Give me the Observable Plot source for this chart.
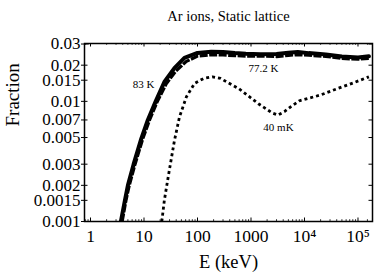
<!DOCTYPE html>
<html>
<head>
<meta charset="utf-8">
<script src="https://cdn.jsdelivr.net/npm/d3@7"></script>
<script src="https://cdn.jsdelivr.net/npm/@observablehq/plot@0.6"></script>
<style>
  html, body { margin: 0; padding: 0; background: white; }
  svg, svg text { font-family: 'Liberation Serif', 'DejaVu Serif', serif !important; }
</style>
</head>
<body>
<div id="chart"></div>
<script>
// Energy (keV) and fraction values
const E83 = [3.7, 4.4, 5.0, 6.4, 8.9, 11.8, 16.4, 24, 37, 57, 100, 180, 300, 500, 800, 1500, 3000, 5000, 7500, 12000, 25000, 50000, 100000, 160000];
const F83 = [0.001, 0.0015, 0.002, 0.003, 0.0049, 0.007, 0.0099, 0.0145, 0.0189, 0.023, 0.0253, 0.0259, 0.0257, 0.0252, 0.0249, 0.0247, 0.0248, 0.0254, 0.0258, 0.0252, 0.0245, 0.0236, 0.0232, 0.0237];

const E77 = [3.9, 4.6, 5.3, 6.8, 9.5, 12.7, 17.6, 26, 39, 62, 100, 180, 300, 500, 800, 1500, 3000, 5000, 7500, 12000, 25000, 50000, 100000, 160000];
const F77 = [0.001, 0.0015, 0.002, 0.003, 0.0049, 0.007, 0.0099, 0.014, 0.0178, 0.0215, 0.0238, 0.0244, 0.0243, 0.024, 0.0238, 0.0238, 0.0236, 0.0241, 0.0245, 0.0242, 0.0237, 0.0228, 0.0224, 0.0228];

const E40 = [21.5, 24, 29, 37, 46, 62, 88, 130, 190, 270, 600, 1400, 2500, 3200, 4200, 5500, 8000, 20000, 40000, 80000, 160000];
const F40 = [0.001, 0.0015, 0.0025, 0.0047, 0.0074, 0.0109, 0.0141, 0.0155, 0.016, 0.0155, 0.0127, 0.0095, 0.008, 0.0077, 0.0082, 0.009, 0.0101, 0.0113, 0.0127, 0.0142, 0.016];

const xTicks = [1, 10, 100, 1000, 10000, 100000];
const xTickLabels = ["1", "10", "100", "1000", "10\u2074", "10\u2075"];
const xMinor = [0.8, 0.9, 2, 3, 4, 5, 6, 7, 8, 9, 20, 30, 40, 50, 60, 70, 80, 90, 200, 300, 400, 500, 600, 700, 800, 900, 2000, 3000, 4000, 5000, 6000, 7000, 8000, 9000, 20000, 30000, 40000, 50000, 60000, 70000, 80000, 90000, 150000];
const yTicks = [0.001, 0.0015, 0.002, 0.003, 0.005, 0.007, 0.01, 0.015, 0.02, 0.03];
const yTickLabels = ["0.001", "0.0015", "0.002", "0.003", "0.005", "0.007", "0.01", "0.015", "0.02", "0.03"];

const title = "Ar ions, Static lattice";
const xLabel = "E (keV)";
const yLabel = "Fraction";
const curveLabels = [
  {text: "83 K", E: 9.8, F: 0.0139},
  {text: "77.2 K", E: 1713, F: 0.0186},
  {text: "40 mK", E: 3266, F: 0.0061}
];

const toRows = (E, F) => E.map((e, i) => ({E: e, F: F[i]}));
const d83 = toRows(E83, F83);
const d77 = toRows(E77, F77);
const d40 = toRows(E40, F40);

const W = 377, H = 278, mT = 43, mB = 57, mL = 84, mR = 5;
const fw = W - mL - mR, fh = H - mT - mB;
const serif = "'Liberation Serif', 'DejaVu Serif', serif";

const chart = Plot.plot({
  width: W,
  height: H,
  marginTop: mT,
  marginBottom: mB,
  marginLeft: mL,
  marginRight: mR,
  style: {fontFamily: serif, background: "white", color: "black"},
  x: {type: "log", domain: [0.772, 186700]},
  y: {type: "log", domain: [0.001, 0.0303]},
  marks: [
    Plot.axisX({ticks: xTicks, tickFormat: d => xTickLabels[xTicks.indexOf(d)], tickSize: 0, tickPadding: 8, fontSize: 17.5, fontFamily: serif, label: null}),
    Plot.axisY({ticks: yTicks, tickFormat: d => yTickLabels[yTicks.indexOf(d)], tickSize: 3, tickPadding: 1, fontSize: 17, fontFamily: serif, label: null}),
    // inner ticks
    Plot.ruleX(xTicks, {x: d => d, insetTop: fh - 3.5, strokeWidth: 1}),
    Plot.ruleX(xTicks, {x: d => d, insetBottom: fh - 3.5, strokeWidth: 1}),
    Plot.ruleX(xMinor, {x: d => d, insetTop: fh - 1.8, strokeWidth: 0.8}),
    Plot.ruleX(xMinor, {x: d => d, insetBottom: fh - 1.8, strokeWidth: 0.8}),
    Plot.ruleY(yTicks, {y: d => d, insetRight: fw - 3.5, strokeWidth: 1}),
    Plot.ruleY(yTicks, {y: d => d, insetLeft: fw - 3.5, strokeWidth: 1}),
    Plot.frame({strokeWidth: 1.5}),
    // curves
    Plot.line(d40, {x: "E", y: "F", stroke: "black", strokeWidth: 2.8, strokeDasharray: "3,3", strokeLinecap: "butt", clip: true}),
    Plot.line(d77, {x: "E", y: "F", stroke: "black", strokeWidth: 3.2, strokeDasharray: "8,1.5", strokeLinecap: "butt", clip: true}),
    Plot.line(d83, {x: "E", y: "F", stroke: "black", strokeWidth: 4, clip: true}),
    // curve labels
    Plot.text(curveLabels, {x: "E", y: "F", text: "text", fontSize: 11, fill: "black"}),
    // title and axis labels
    Plot.text([title], {frameAnchor: "top", dy: -33, fontSize: 14.5, fill: "black"}),
    Plot.text([xLabel], {frameAnchor: "bottom", dy: 46, fontSize: 18.5, fill: "black"}),
    Plot.text([yLabel], {frameAnchor: "left", rotate: -90, dx: -72, dy: -6, fontSize: 19, fill: "black"})
  ]
});

document.getElementById("chart").appendChild(chart);
</script>
</body>
</html>
